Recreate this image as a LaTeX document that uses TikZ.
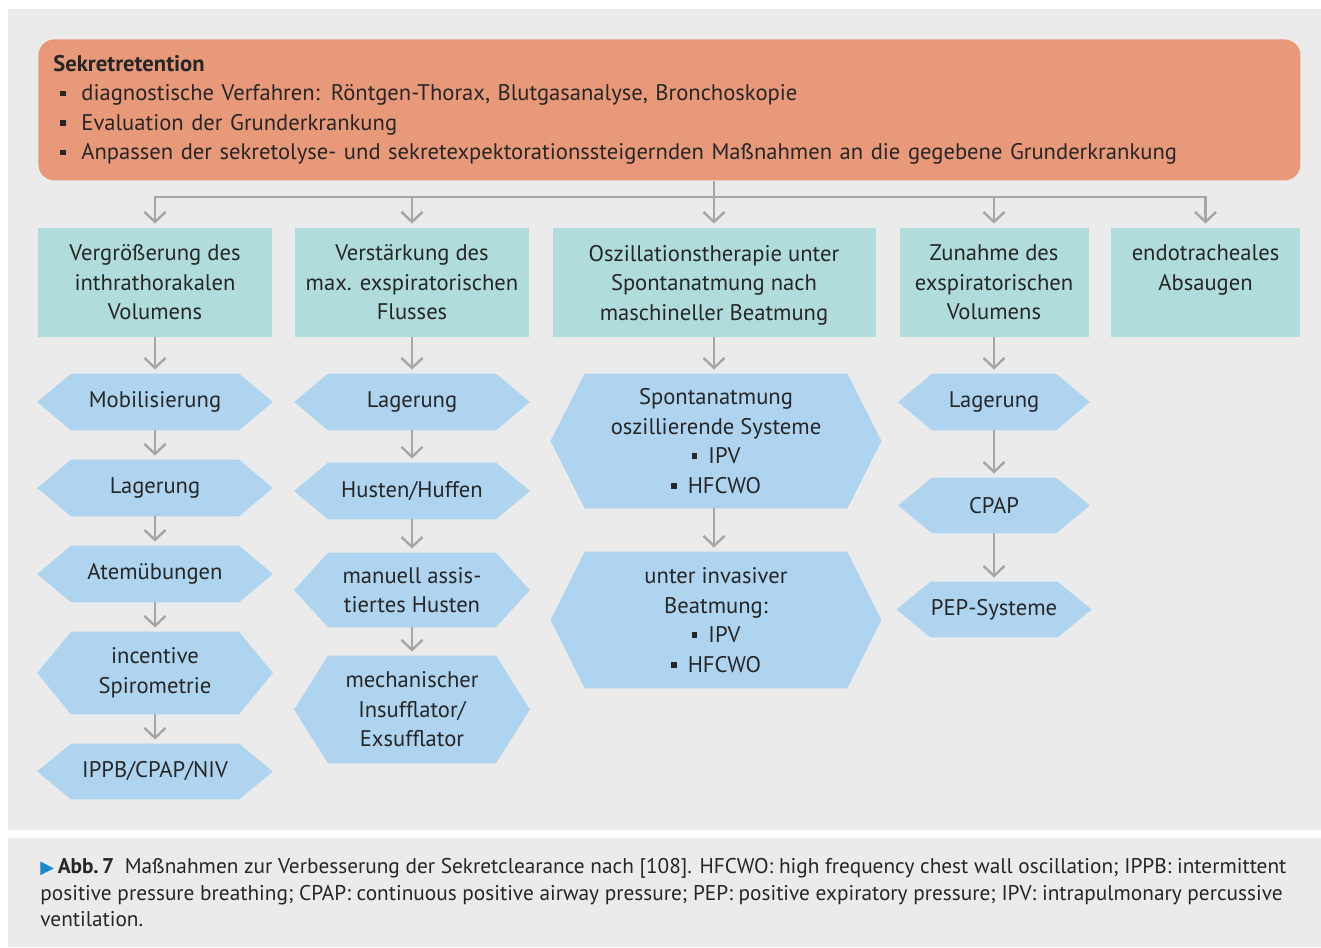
\documentclass[tikz,border=0pt]{standalone}
\usepackage{fontspec}
\setmainfont{PT Sans}
\newfontfamily\symfont{DejaVu Sans}
\usetikzlibrary{arrows.meta,backgrounds}
\definecolor{sekPage}{HTML}{EBEBEB}
\definecolor{sekOrange}{HTML}{E8997A}
\definecolor{sekTeal}{HTML}{B0DCDB}
\definecolor{sekBlue}{HTML}{AED4F0}
\definecolor{sekGray}{HTML}{A6A6A6}
\definecolor{sekText}{HTML}{262626}
\definecolor{sekCap}{HTML}{1B87CF}
\newcommand{\sqbul}{\rule[0.2em]{0.25em}{0.25em}}
\newcommand{\sqitem}{\makebox[14pt][l]{\hspace*{3.5pt}\sqbul}}
\tikzset{
  sek main/.style={font=\fontsize{11.3}{14.75}\selectfont, text=sekText},
  sek top/.style={sek main, fill=sekOrange, rounded corners=8pt, align=left, inner xsep=7.5pt, inner ysep=0pt},
  sek box/.style={sek main, fill=sekTeal, align=center, minimum height=54.5pt, inner sep=0pt},
  sek hex/.style={sek main, align=center, inner sep=0pt},
  sek hex fill/.style={fill=sekBlue},
  sek link/.style={draw=sekGray, line width=1.2pt},
  sek arrow/.style={sek link, -{Straight Barb[length=5pt,width=10.5pt]}, shorten >=2pt},
  sek cap/.style={font=\fontsize{10.65}{13.25}\selectfont, text=sekText, align=left, inner sep=0pt},
}

\begin{document}
\begin{tikzpicture}[x=0.5pt,y=-0.5pt]
  \useasboundingbox (0,0) rectangle (1321,947);
  \begin{scope}[on background layer]
    \fill[white] (0,0) rectangle (1321,947);
    \fill[sekPage] (8,9) rectangle (1321,830);
    \fill[sekPage] (8,838) rectangle (1321,947);
  \end{scope}

  % Kopfzeile
  \node[sek top, anchor=north west, text width=616pt, minimum height=70.5pt] (top) at (38,39)
    {\textbf{Sekretretention}\\
     \sqitem diagnostische Verfahren: Röntgen-Thorax, Blutgasanalyse, Bronchoskopie\\
     \sqitem Evaluation der Grunderkrankung\\
     \sqitem Anpassen der sekretolyse- und sekretexpektorationssteigernden Maßnahmen an die gegebene Grunderkrankung};

  % Ziele
  \node[sek box, minimum width=117pt] (vol) at (155,282.5) {Vergrößerung des\\inthrathorakalen\\Volumens};
  \node[sek box, minimum width=117pt] (flu) at (412,282.5) {Verstärkung des\\max. exspiratorischen\\Flusses};
  \node[sek box, minimum width=161.5pt, text depth=0pt] (osz) at (714,282.5) {Oszillationstherapie unter\\Spontanatmung nach\\maschineller Beatmung};
  \node[sek box, minimum width=94.5pt] (exv) at (994,282.5) {Zunahme des\\exspiratorischen\\Volumens};
  \node[sek box, minimum width=94.5pt] (abs) at (1205.5,282.5) {endotracheales\\Absaugen\\\phantom{V}};

  % Massnahmen
  \node[sek hex, minimum width=83.5pt, minimum height=28pt] (mob) at (155,402) {Mobilisierung};
  \node[sek hex, minimum width=83.5pt, minimum height=28pt] (lagA) at (155,488) {Lagerung};
  \node[sek hex, minimum width=83.5pt, minimum height=28pt] (atem) at (155,574) {Atemübungen};
  \node[sek hex, minimum width=83.5pt, minimum height=41pt] (spiro) at (155,673) {incentive\\Spirometrie};
  \node[sek hex, minimum width=83.5pt, minimum height=27.5pt] (ippb) at (155,771.5) {IPPB/CPAP/NIV};

  \node[sek hex, minimum width=83.5pt, minimum height=28pt] (lagB) at (412,402) {Lagerung};
  \node[sek hex, minimum width=83.5pt, minimum height=28pt] (huff) at (412,491) {Husten/Huffen};
  \node[sek hex, minimum width=83.5pt, minimum height=37pt] (manu) at (412,590) {manuell assis-\\tiertes Husten};
  \node[sek hex, minimum width=83.5pt, minimum height=53.5pt] (mech) at (412,709.5) {mechanischer\\Insufflator/\\Exsufflator};

  \node[sek hex, minimum width=131pt, minimum height=67pt] (spon) at (716,441) {Spontanatmung\\oszillierende Systeme\\\sqbul\enspace IPV\\\sqbul\enspace HFCWO};
  \node[sek hex, minimum width=131pt, minimum height=68pt] (inva) at (716,620) {unter invasiver\\Beatmung:\\\sqbul\enspace IPV\\\sqbul\enspace HFCWO};

  \node[sek hex, minimum width=61.5pt, minimum height=28pt] (lagC) at (994,402) {Lagerung};
  \node[sek hex, minimum width=61.5pt, minimum height=27.5pt] (cpap) at (994,505.5) {CPAP};
  \node[sek hex, minimum width=61.5pt, minimum height=27.5pt] (pep) at (994,609.5) {PEP-Systeme};

  \begin{scope}[on background layer]
    \foreach \h in {mob,lagA,atem,spiro,ippb,lagB,huff,manu,mech,spon,inva,lagC,cpap,pep}
      \fill[sek hex fill] (\h.north west) -- (\h.north east) -- ([xshift=17pt]\h.east)
        -- (\h.south east) -- (\h.south west) -- ([xshift=-17pt]\h.west) -- cycle;
  \end{scope}

  % Verbindungen
  \draw[sek link] (top.south -| osz.north) -- ++(0,16) coordinate (split);
  \foreach \b in {vol,flu,osz,exv,abs}
    \draw[sek arrow] (split) -| (\b.north);
  \foreach \a/\b in {vol/mob,mob/lagA,lagA/atem,atem/spiro,spiro/ippb,
                     flu/lagB,lagB/huff,huff/manu,manu/mech,
                     exv/lagC,lagC/cpap,cpap/pep}
    \draw[sek arrow] (\a.south) -- (\b.north);
  \draw[sek arrow] (osz.south) -- (osz.south |- spon.north);
  \draw[sek arrow] (osz.south |- spon.south) -- (osz.south |- inva.north);

  % Legende
  \node[sek cap, anchor=north west] (cap) at (40,858)
    {{\symfont\fontsize{9}{9}\selectfont\color{sekCap}▶}\,\textbf{Abb.\,7}\enspace Maßnahmen zur Verbesserung der Sekretclearance nach [108]. HFCWO: high frequency chest wall oscillation; IPPB: intermittent\\
     positive pressure breathing; CPAP: continuous positive airway pressure; PEP: positive expiratory pressure; IPV: intrapulmonary percussive\\
     ventilation.};
\end{tikzpicture}
\end{document}
